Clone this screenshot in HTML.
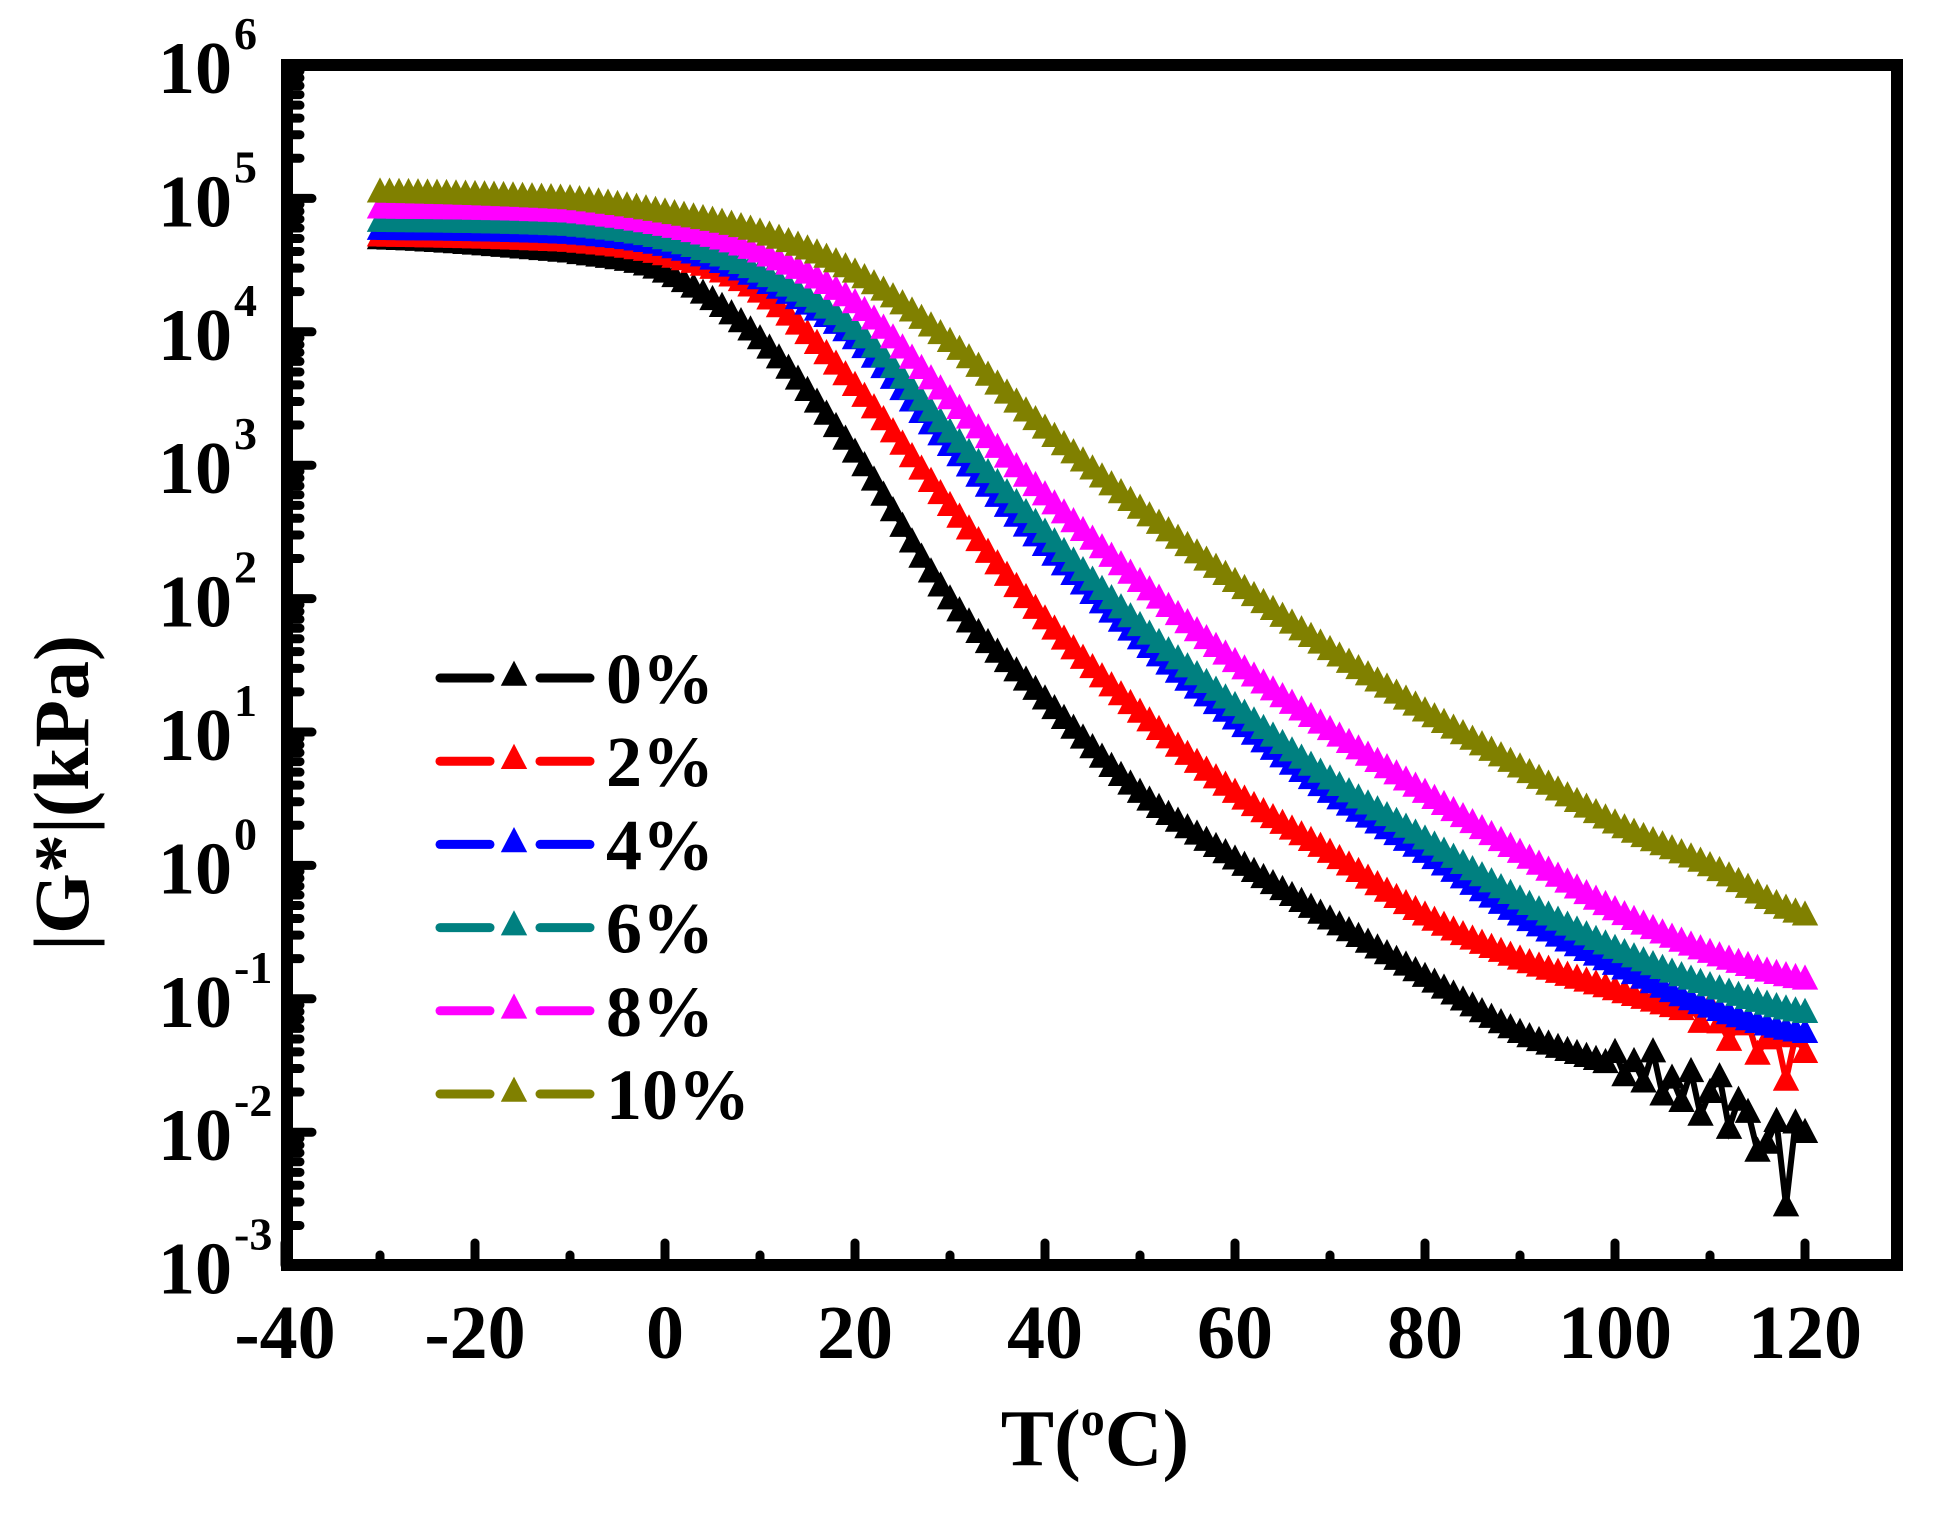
<!DOCTYPE html>
<html><head><meta charset="utf-8"><style>
html,body{margin:0;padding:0;background:#fff;}
svg{display:block;}
text{font-family:"Liberation Serif",serif;font-weight:bold;fill:#000;}
</style></head><body>
<svg id="s" width="1939" height="1513" xmlns="http://www.w3.org/2000/svg">
<rect width="1939" height="1513" fill="#fff"/>
<g id="data"></g>
<rect x="287" y="65" width="1610" height="1200" fill="none" stroke="#000" stroke-width="12"/>
<g id="ticks" stroke="#000" stroke-width="9" stroke-linecap="round"></g>
<g id="labels"></g>
<text x="1095" y="1465" font-size="80" text-anchor="middle">T(<tspan font-size="48" dy="-30">o</tspan><tspan dy="30">C)</tspan></text>
<text transform="translate(88,793) rotate(-90)" font-size="78" text-anchor="middle">|G*|(kPa)</text>
<g id="legend"></g>
</svg>
<script>
const NS="http://www.w3.org/2000/svg";
const X=T=>285+(T+40)*9.5, Y=L=>65+(6-L)*133.4;
function el(t,a,p,txt){const e=document.createElementNS(NS,t);for(const k in a)e.setAttribute(k,a[k]);if(txt!==undefined)e.textContent=txt;p.appendChild(e);return e;}
const ticks=document.getElementById('ticks'),labels=document.getElementById('labels');
for(let T=-40;T<=120;T+=10){const maj=T%20===0;el('line',{x1:X(T),x2:X(T),y1:1265,y2:maj?1243:1255},ticks);}
for(let T=-40;T<=120;T+=20){el('text',{x:X(T),y:1358,'font-size':76,'text-anchor':'middle'},labels,String(T));}
for(let d=-3;d<=6;d++){el('line',{x1:287,x2:312,y1:Y(d),y2:Y(d)},ticks);
 if(d<6)for(let m=2;m<=9;m++){const y=Y(d+Math.log10(m));el('line',{x1:287,x2:300,y1:y,y2:y},ticks);}
 el('text',{x:232,y:Y(d)+28,'font-size':74,'text-anchor':'end'},labels,'10');
 el('text',{x:234,y:Y(d)-16,'font-size':46},labels,String(d));}
const series=[
 ['#000',[[-30,4.7],[-10,4.6],[0,4.45],[10,3.95],[20,3.1],[30,2.0],[40,1.25],[50,0.55],[60,0.05],[70,-0.4],[80,-0.83],[90,-1.25],[100,-1.5],[110,-1.75],[120,-2.1]]],
 ['#f00',[[-30,4.72],[-10,4.68],[0,4.58],[10,4.3],[20,3.6],[30,2.7],[40,1.85],[50,1.15],[60,0.55],[70,0.1],[80,-0.37],[90,-0.7],[100,-0.93],[110,-1.15],[120,-1.45]]],
 ['#00f',[[-30,4.77],[-10,4.74],[0,4.65],[10,4.4],[20,3.95],[30,3.15],[40,2.4],[50,1.7],[60,1.1],[70,0.55],[80,0.1],[90,-0.37],[100,-0.74],[110,-1.06],[120,-1.25]]],
 ['#008080',[[-30,4.83],[-10,4.8],[0,4.7],[10,4.45],[20,4.02],[30,3.25],[40,2.5],[50,1.8],[60,1.2],[70,0.65],[80,0.2],[90,-0.25],[100,-0.62],[110,-0.9],[120,-1.1]]],
 ['#f0f',[[-30,4.93],[-10,4.9],[0,4.8],[10,4.6],[20,4.22],[30,3.5],[40,2.78],[50,2.13],[60,1.53],[70,1.02],[80,0.55],[90,0.1],[100,-0.33],[110,-0.65],[120,-0.85]]],
 ['#808000',[[-30,5.05],[-10,5.0],[0,4.9],[10,4.75],[20,4.45],[30,3.93],[40,3.28],[50,2.68],[60,2.13],[70,1.62],[80,1.16],[90,0.74],[100,0.32],[110,0.0],[120,-0.37]]]
];
function interp(p,T){for(let i=0;i<p.length-1;i++){if(T<=p[i+1][0]){
 const p0=p[Math.max(i-1,0)][1],p1=p[i][1],p2=p[i+1][1],p3=p[Math.min(i+2,p.length-1)][1];
 const t=(T-p[i][0])/(p[i+1][0]-p[i][0]),t2=t*t,t3=t2*t;
 return 0.5*((2*p1)+(-p0+p2)*t+(2*p0-5*p1+4*p2-p3)*t2+(-p0+3*p1-3*p2+p3)*t3);}}return p[p.length-1][1];}
const data=document.getElementById('data');
function tri(cx,cy,s,c,g){el('polygon',{points:`${cx},${cy-s*0.6} ${cx-s*0.55},${cy+s*0.45} ${cx+s*0.55},${cy+s*0.45}`,fill:c},g);}
const bn=[0.1,-0.05,0.08,-0.05,0.2,-0.1,0.05,-0.1,0.15,-0.15,0.05,0.2,-0.15,0.1,0.05,-0.2,-0.1,0.1,0,0.15,0.1];
const rn=[0.05,-0.05,0.1,0,-0.1,0.05,0.1,-0.1,0.05,0.1,-0.2,0.15,0.05];
series.forEach((s,si)=>{const g=el('g',{},data);let pts=[];
 for(let T=-30;T<=120;T+=1){let L=interp(s[1],T);
  if(si===0&&T>=100)L+=bn[T-100]||0;
  if(si===1&&T>=108)L+=rn[T-108]||0;
  if(si===0&&T===118)L=-2.55;
  pts.push([X(T),Y(L)]);}
 el('polyline',{points:pts.map(p=>p.join(',')).join(' '),fill:'none',stroke:s[0],'stroke-width':6},g);
 pts.forEach(p=>tri(p[0],p[1],24,s[0],g));
});
const lg=document.getElementById('legend');const names=['0%','2%','4%','6%','8%','10%'];
names.forEach((n,i)=>{const y=678+i*83.2,c=series[i][0];
 el('line',{x1:440,x2:490,y1:y,y2:y,stroke:c,'stroke-width':9,'stroke-linecap':'round'},lg);
 el('line',{x1:540,x2:590,y1:y,y2:y,stroke:c,'stroke-width':9,'stroke-linecap':'round'},lg);
 tri(514,y-3,24,c,lg);
 el('text',{x:606,y:y+25,'font-size':72},lg,n);});
</script>
</body></html>
